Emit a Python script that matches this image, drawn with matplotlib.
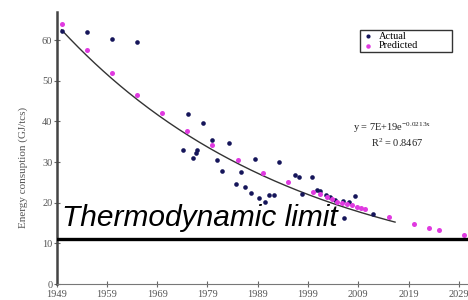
import numpy as np
import matplotlib
matplotlib.use("Agg")
import matplotlib.pyplot as plt

plt.rcParams['mathtext.fontset'] = 'custom'
plt.rcParams['mathtext.rm'] = 'Liberation Serif'
plt.rcParams['mathtext.it'] = 'Liberation Serif:italic'
plt.rcParams['mathtext.default'] = 'rm'

actual_years = [1950, 1955, 1960, 1965, 1974.2, 1975.2, 1976.2, 1976.7, 1976.9, 1978.2,
                1979.9, 1981.0, 1981.8, 1983.3, 1984.7, 1985.6, 1986.5, 1987.6, 1988.5,
                1989.3, 1990.4, 1991.2, 1992.2, 1993.2, 1996.4, 1997.3, 1997.8, 1999.8,
                2000.7, 2001.4, 2002.5, 2003.4, 2004.4, 2005.9, 2007.1, 2008.3, 2006.2, 2012.0]
actual_vals = [62.2, 62.0, 60.2, 59.6, 33.0, 41.8, 30.9, 32.1, 33.0, 39.6,
               35.3, 30.5, 27.9, 34.7, 24.6, 27.5, 23.8, 22.3, 30.7,
               21.2, 20.1, 21.9, 21.9, 29.9, 26.8, 26.4, 22.2, 26.2,
               23.0, 22.8, 22.0, 21.4, 20.6, 20.4, 20.2, 21.6, 16.3, 17.2]

pred_years = [1950, 1955, 1960, 1965, 1970, 1975, 1980, 1985, 1990, 1995, 2000,
              2001.4, 2002.7, 2003.7, 2004.7, 2005.7, 2006.7, 2007.7, 2008.7, 2009.5,
              2010.3, 2015, 2020, 2023, 2025, 2030]
pred_vals = [63.9, 57.5, 51.9, 46.5, 42.0, 37.7, 34.1, 30.6, 27.4, 25.0, 22.7,
             22.1, 21.5, 20.9, 20.2, 20.0, 19.7, 19.4, 19.0, 18.7,
             18.4, 16.6, 14.8, 13.7, 13.3, 12.0]

fit_a = 62.5      # value of fit at 1950
fit_b = 0.0213    # decay rate
fit_range = (1950, 2016.3)
thermo_limit = 11.0

xticks = [1949, 1959, 1969, 1979, 1989, 1999, 2009, 2019, 2029]
yticks = [0, 10, 20, 30, 40, 50, 60]

fig = plt.figure(figsize=(4.68, 3.0), dpi=100)
ax = fig.add_axes([56.5/468, 16/300, 1 - 56.5/468, 272/300])
ax.set_xlim(1949, 2030.8)
ax.set_ylim(0, 66.9)

serif = 'Liberation Serif'
gray = '#555555'

xs = np.linspace(fit_range[0], fit_range[1], 200)
ax.plot(xs, fit_a * np.exp(-fit_b * (xs - 1950)), color='#333333', lw=1.0, zorder=2)

ax.scatter(actual_years, actual_vals, s=11, color='#15155a', zorder=3, label='Actual', linewidths=0)
ax.scatter(pred_years, pred_vals, s=13, color='#e03ae0', zorder=3, label='Predicted', linewidths=0)

ax.axhline(thermo_limit, color='black', lw=2.4, zorder=4)
ax.text(1950.0, 14.3, 'Thermodynamic limit', fontsize=21.5, style='italic',
        family='Liberation Sans', va='baseline', ha='left', zorder=5)

for s in ['top', 'right']:
    ax.spines[s].set_visible(False)
ax.spines['left'].set_color('#444444')
ax.spines['left'].set_linewidth(1.8)
ax.spines['bottom'].set_color('#777777')
ax.spines['bottom'].set_linewidth(0.8)

ax.set_xticks(xticks)
ax.set_yticks(yticks)
ax.tick_params(axis='both', direction='inout', length=4, width=0.8, color='#666666',
               labelsize=7.5, labelcolor=gray, pad=1)
ax.tick_params(axis='x', pad=2.5)
for lab in ax.get_xticklabels() + ax.get_yticklabels():
    lab.set_family(serif)

ax.set_ylabel('Energy consuption (GJ/tcs)', family=serif, fontsize=8, color=gray)
ax.yaxis.set_label_coords(-0.07, 0.43)

leg = fig.legend(loc='upper left', bbox_to_anchor=(355/468, 1 - 53/300, 102/468, 28/300),
                 mode='expand', frameon=True,
                 prop={'family': serif, 'size': 7.5}, handletextpad=0.4, borderpad=0.15,
                 labelspacing=0.0, markerscale=0.9, fancybox=False, handlelength=1.2)
leg.get_frame().set_edgecolor('black')
leg.get_frame().set_linewidth(1.0)

fig.text(392/468, 1 - 128/300, r'y = 7E+19e$^{-0.0213x}$', family=serif, fontsize=7.5,
         ha='center', va='center', color='#222222')
fig.text(397/468, 1 - 143/300, r'R$^2$ = 0.8467', family=serif, fontsize=7.5,
         ha='center', va='center', color='#222222')

fig.savefig('out.png', dpi=100)
